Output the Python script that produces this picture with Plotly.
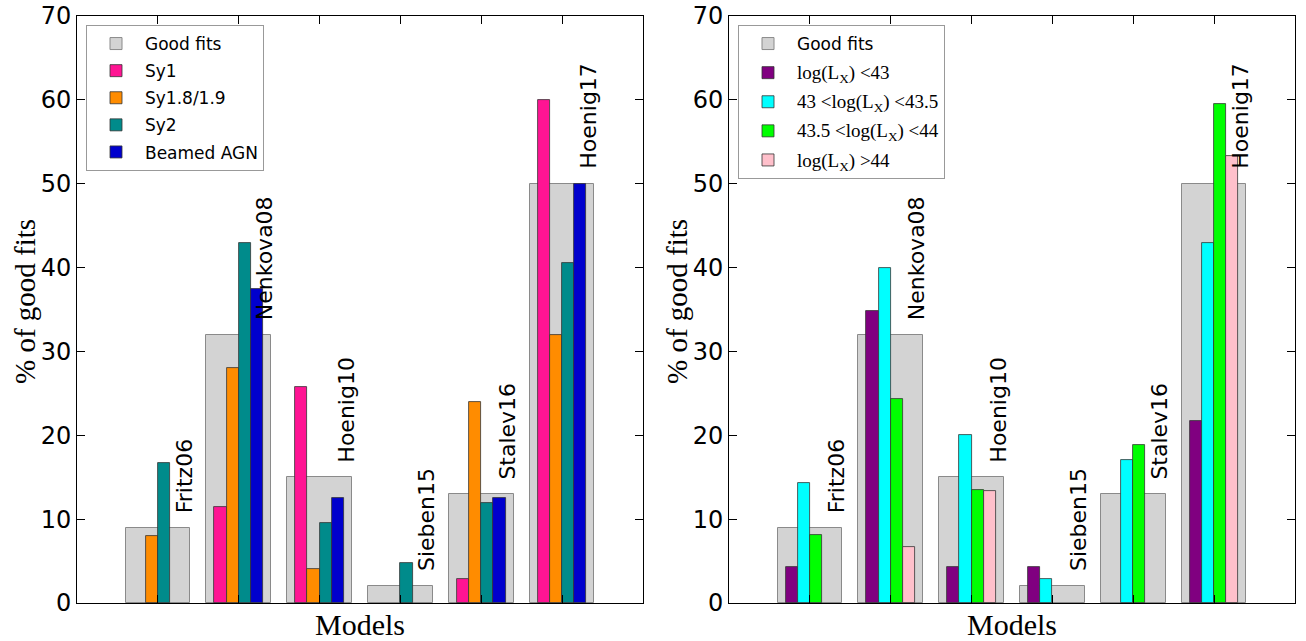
import plotly.graph_objects as go

models = ["Fritz06", "Nenkova08", "Hoenig10", "Sieben15", "Stalev16", "Hoenig17"]
good_fits = [9, 32, 15, 2, 13, 50]

# left panel: AGN types
sy1 = [0, 11.4, 25.7, 0, 2.86, 60.0]
sy18 = [8.0, 28.0, 4.0, 0, 24.0, 32.0]
sy2 = [16.7, 42.9, 9.5, 4.76, 11.9, 40.5]
beamed = [0, 37.5, 12.5, 0, 12.5, 50.0]

# right panel: X-ray luminosity bins
lx1 = [4.35, 34.8, 4.35, 4.35, 0, 21.7]
lx2 = [14.3, 40.0, 20.0, 2.86, 17.1, 42.9]
lx3 = [8.1, 24.3, 13.5, 0, 18.9, 59.5]
lx4 = [0, 6.67, 13.3, 0, 0, 53.3]

left_series = [("Sy1", sy1, "#ff1493"), ("Sy1.8/1.9", sy18, "#ff8c00"),
               ("Sy2", sy2, "#008b8b"), ("Beamed AGN", beamed, "#0000cd")]
SER = "font-family:'Liberation Serif';font-size:19px"
right_series = [
    (f"<span style=\"{SER}\">log(L<sub>X</sub>) &lt;43</span>", lx1, "#800080"),
    (f"<span style=\"{SER}\">43 &lt;log(L<sub>X</sub>) &lt;43.5</span>", lx2, "#00ffff"),
    (f"<span style=\"{SER}\">43.5 &lt;log(L<sub>X</sub>) &lt;44</span>", lx3, "#00ff00"),
    (f"<span style=\"{SER}\">log(L<sub>X</sub>) &gt;44</span>", lx4, "#ffc0cb"),
]

xs = list(range(len(models)))
offsets = [-0.3, -0.15, 0.0, 0.15]

fig = go.Figure()

def nz(vals):
    return [v if v != 0 else None for v in vals]

def add_panel(series, xa, ya, legend):
    fig.add_trace(go.Bar(x=xs, y=good_fits, width=0.8, offset=-0.4, name="Good fits",
                         marker=dict(color="#d3d3d3", line=dict(color="#8a8a8a", width=1)),
                         xaxis=xa, yaxis=ya, legend=legend, legendgroup=legend + "g"))
    for k, (nm, vals, col) in enumerate(series):
        fig.add_trace(go.Bar(x=xs, y=nz(vals), width=0.15, offset=offsets[k], name=nm,
                             marker=dict(color=col, line=dict(color="#333333", width=0.8)),
                             xaxis=xa, yaxis=ya, legend=legend, legendgroup=legend + str(k)))
    for i, m in enumerate(models):
        fig.add_annotation(x=xs[i] + 0.15, y=good_fits[i] + 2, xref=xa, yref=ya, text=m,
                           textangle=-90, xanchor="left", yanchor="bottom", showarrow=False,
                           yshift=-4,
                           font=dict(family="DejaVu Sans", size=22, color="black"))

add_panel(left_series, "x", "y", "legend")
add_panel(right_series, "x2", "y2", "legend2")

W, H = 1306, 641
L1, R1, L2, R2, T, B = 77, 643, 729, 1295, 16, 603

axis_common = dict(showline=True, linecolor="black", linewidth=1, mirror="allticks",
                   ticks="inside", ticklen=8, tickcolor="black", showgrid=False,
                   zeroline=False, automargin=False)
xcommon = dict(axis_common, range=[-1, 6], tickvals=xs, showticklabels=False)
ycommon = dict(axis_common, range=[0, 70], tickvals=list(range(0, 71, 10)),
               tickfont=dict(family="DejaVu Sans", size=24, color="black"))

legend_common = dict(bgcolor="white", bordercolor="#999999", borderwidth=1,
                     font=dict(family="DejaVu Sans", size=17, color="black"),
                     xanchor="left", yanchor="top", itemwidth=48)

fig.update_layout(
    width=W, height=H, autosize=False, margin=dict(l=0, r=0, t=0, b=0, pad=0, autoexpand=False),
    plot_bgcolor="white", paper_bgcolor="white", barmode="overlay", bargap=0,
    xaxis=dict(xcommon, domain=[L1 / W, R1 / W], anchor="y"),
    yaxis=dict(ycommon, domain=[1 - B / H, 1 - T / H], anchor="x"),
    xaxis2=dict(xcommon, domain=[L2 / W, R2 / W], anchor="y2"),
    yaxis2=dict(ycommon, domain=[1 - B / H, 1 - T / H], anchor="x2"),
    legend=dict(legend_common, x=(L1 + 9) / W, y=1 - 25 / H, tracegroupgap=2),
    legend2=dict(legend_common, x=(L2 + 9) / W, y=1 - 25 / H, tracegroupgap=4),
)

for cx in [(L1 + R1) / 2, (L2 + R2) / 2]:
    fig.add_annotation(x=cx / W, y=1 - 624 / H, xref="paper", yref="paper", text="Models",
                       showarrow=False, xanchor="center", yanchor="middle",
                       font=dict(family="Liberation Serif", size=30, color="black"))
for lx in [25, 677]:
    fig.add_annotation(x=lx / W, y=1 - 302 / H, xref="paper", yref="paper",
                       text="% of good fits", textangle=-90, showarrow=False,
                       xanchor="center", yanchor="middle",
                       font=dict(family="Liberation Serif", size=29, color="black"))

fig.write_html("out.html", config={"displayModeBar": False},
               post_script="document.body.style.margin='0';document.body.style.overflow='hidden';")
